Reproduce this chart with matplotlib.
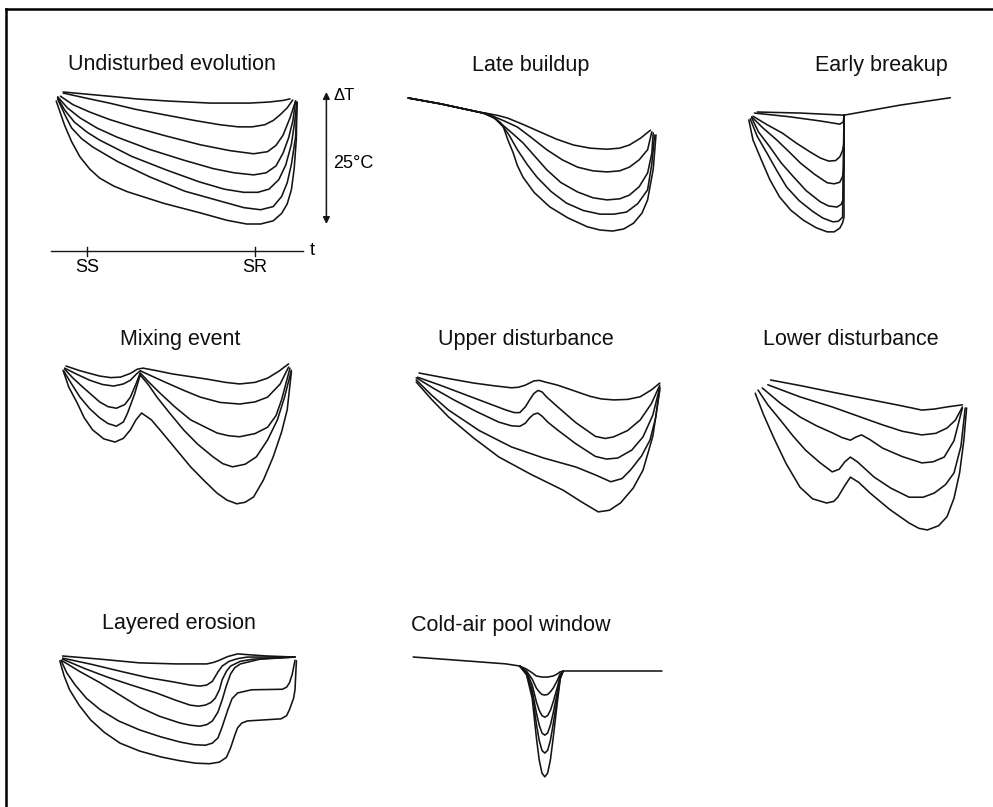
import matplotlib.pyplot as plt
from matplotlib.lines import Line2D

plt.rcParams['font.family'] = ['Liberation Sans', 'DejaVu Sans']

# time in hours after sunset, temperature change in degC (schematic values)
SS_TIME = 0
SR_TIME = 12
DT_SCALE = 25

undisturbed = [
    ([-1.7, 1.6, 3.5, 5.7, 8.8, 11.6, 13.0, 14.0, 14.5],
     [0.0, -0.8, -1.3, -1.7, -2.1, -2.1, -1.9, -1.6, -1.3]),
    ([-1.7, 0.0, 1.6, 3.5, 5.7, 7.7, 9.5, 10.8, 11.8, 12.7, 13.3, 13.8, 14.3, 14.7],
     [-0.2, -1.2, -2.1, -3.3, -4.4, -5.4, -6.2, -6.6, -6.6, -6.2, -5.4, -4.3, -3.0, -1.5]),
    ([-1.9, -1.0, 0.2, 1.6, 3.3, 5.6, 8.1, 10.2, 11.9, 12.9, 13.5, 14.0, 14.5, 14.9],
     [-0.8, -2.4, -3.8, -5.2, -6.6, -8.3, -10.0, -11.1, -11.7, -11.3, -10.1, -8.2, -4.9, -1.7]),
    ([-2.1, -1.4, -0.5, 0.7, 2.1, 4.5, 6.9, 9.0, 10.5, 11.9, 12.8, 13.5, 14.0, 14.4, 14.7, 14.9],
     [-0.9, -3.0, -4.9, -6.8, -8.5, -10.9, -12.9, -14.5, -15.3, -15.7, -15.3, -14.0, -11.6, -8.7, -5.5, -1.7]),
    ([-2.1, -1.6, -0.9, 0.0, 0.9, 3.2, 5.7, 8.0, 9.8, 11.2, 12.2, 13.0, 13.7, 14.2, 14.6, 14.8, 15.0],
     [-1.1, -3.4, -5.7, -7.6, -9.1, -12.2, -14.8, -17.0, -18.4, -19.0, -19.0, -18.4, -16.6, -13.8, -9.9, -6.3, -1.9]),
    ([-2.1, -1.6, -1.1, -0.4, 0.4, 2.2, 4.5, 7.0, 9.3, 11.2, 12.4, 13.3, 13.9, 14.3, 14.6, 14.9, 15.0],
     [-1.3, -4.2, -6.8, -8.8, -10.4, -13.2, -16.1, -18.8, -20.5, -21.9, -22.3, -21.7, -19.8, -17.2, -13.7, -8.5, -1.9]),
    ([-2.2, -1.9, -1.6, -1.1, -0.5, 0.2, 0.9, 1.9, 2.9, 5.5, 8.1, 10.0, 11.4, 12.4, 13.3, 13.9, 14.3,
      14.6, 14.8, 14.95, 15.0],
     [-1.7, -4.0, -6.3, -9.4, -12.3, -14.6, -16.3, -17.8, -18.9, -21.1, -22.9, -24.3, -25.0, -25.0, -24.4,
      -23.0, -21.2, -18.5, -14.5, -9.0, -2.1]),
]

late_start_t = [-2.2, 0.1, 2.2, 2.9]
late_start_dt = [0.0, -1.1, -2.3, -2.7]
late_buildup = [
    ([3.4, 4.2, 4.9, 6.0, 7.2, 8.4, 9.6, 10.8, 12.0, 12.9, 13.6, 14.4, 15.1],
     [-2.9, -3.3, -3.8, -5.0, -6.4, -7.8, -8.9, -9.5, -9.7, -9.5, -8.9, -7.6, -6.1]),
    ([3.3, 3.9, 4.7, 5.6, 6.6, 7.7, 8.8, 9.9, 11.0, 12.0, 12.9, 13.6, 14.3, 14.9, 15.2],
     [-2.9, -3.5, -4.4, -5.5, -7.5, -9.8, -11.7, -13.1, -13.8, -14.0, -13.8, -13.1, -11.7, -9.8, -6.4]),
    ([3.3, 3.8, 4.5, 5.2, 6.0, 6.8, 7.7, 8.7, 9.9, 11.0, 12.0, 12.9, 13.6, 14.3, 14.9, 15.2, 15.3],
     [-2.9, -3.4, -5.0, -6.6, -8.5, -10.9, -13.6, -16.0, -17.8, -18.9, -19.3, -19.1, -18.4, -16.8, -14.2,
      -10.5, -6.6]),
    ([3.3, 3.9, 4.4, 5.0, 5.6, 6.3, 7.0, 8.0, 9.1, 10.3, 11.5, 12.5, 13.4, 14.2, 14.9, 15.2, 15.4],
     [-3.0, -3.7, -4.7, -7.0, -9.8, -12.6, -15.0, -17.7, -19.9, -21.3, -22.0, -22.0, -21.6, -20.0, -17.4,
      -12.5, -7.0]),
    ([3.3, 4.0, 4.6, 4.9, 5.3, 5.6, 6.0, 6.8, 7.9, 9.2, 10.6, 11.5, 12.4, 13.2, 13.9, 14.5, 14.9, 15.3,
      15.5],
     [-3.0, -3.9, -5.5, -7.8, -10.4, -12.8, -15.0, -17.9, -20.6, -22.7, -24.4, -25.0, -25.2, -24.8, -23.7,
      -21.8, -19.3, -13.5, -7.0]),
]

breakup_tail_t = [4.5, 8.5, 12.1]
breakup_tail_dt = [-0.6, 1.3, 2.7]
early_breakup = [
    ([-1.7, 1.4, 4.5], [0.0, -0.2, -0.6]),
    ([-1.9, 0.6, 2.8, 4.2, 4.45, 4.5], [-0.2, -0.9, -1.7, -2.3, -1.9, -0.6]),
    ([-2.0, -1.0, 0.1, 1.1, 2.1, 2.8, 3.4, 3.9, 4.2, 4.4, 4.5, 4.5],
     [-0.8, -2.4, -4.0, -5.9, -7.6, -8.7, -9.3, -9.2, -8.5, -7.3, -5.9, -0.6]),
    ([-2.1, -1.3, -0.3, 0.6, 1.4, 2.4, 3.3, 3.8, 4.2, 4.4, 4.5, 4.5],
     [-0.9, -3.0, -5.3, -7.6, -9.7, -11.8, -13.4, -13.6, -13.3, -12.2, -10.4, -0.6]),
    ([-2.1, -1.6, -0.8, 0.0, 0.9, 1.8, 2.8, 3.4, 4.0, 4.3, 4.45, 4.5],
     [-1.1, -3.8, -6.6, -9.6, -12.3, -14.9, -17.0, -17.8, -18.0, -17.5, -16.5, -0.6]),
    ([-2.2, -1.7, -1.0, -0.3, 0.4, 1.3, 2.3, 3.0, 3.7, 4.1, 4.4, 4.5],
     [-1.3, -4.6, -7.8, -11.1, -14.2, -16.8, -18.9, -20.1, -20.8, -20.7, -19.9, -0.6]),
    ([-2.3, -2.0, -1.4, -0.8, -0.1, 0.7, 1.6, 2.5, 3.3, 3.8, 4.2, 4.4, 4.5, 4.5],
     [-1.5, -5.3, -9.1, -12.8, -16.1, -18.6, -20.5, -21.9, -22.7, -22.7, -22.0, -21.0, -19.9, -0.6]),
]

mixing_event = [
    ([-2.0, -1.0, 0.4, 1.2, 1.9, 2.6, 3.1, 3.5, 4.5, 5.6, 8.1, 9.4, 10.4, 11.5, 12.4, 13.2, 13.9],
     [0.0, -0.9, -1.9, -2.2, -2.1, -1.4, -0.6, -0.4, -0.9, -1.5, -2.5, -3.1, -3.4, -3.1, -2.3, -1.0, 0.4]),
    ([-2.1, -1.2, -0.3, 0.6, 1.4, 2.1, 2.6, 3.0, 3.3, 4.2, 5.2, 6.4, 7.6, 9.0, 10.4, 11.5, 12.4, 13.3, 13.9],
     [-0.4, -1.6, -2.7, -3.5, -3.8, -3.4, -2.7, -1.6, -0.9, -2.0, -3.2, -4.6, -5.9, -6.9, -7.2, -6.8, -5.9,
      -3.4, -0.2]),
    ([-2.1, -1.5, -0.8, 0.4, 1.0, 1.6, 2.2, 2.6, 3.0, 3.3, 3.9, 4.7, 5.8, 6.9, 8.8, 9.6, 10.4, 11.5, 12.4,
      13.0, 13.4, 14.0],
     [-0.6, -2.3, -4.0, -6.8, -7.7, -8.0, -7.3, -5.9, -3.4, -1.3, -3.0, -5.1, -7.8, -10.2, -12.7, -13.2,
      -13.4, -12.8, -11.6, -9.4, -6.4, -0.4]),
    ([-2.2, -1.6, -1.0, -0.3, 0.4, 1.0, 1.6, 2.1, 2.4, 2.9, 3.3, 3.9, 4.5, 5.4, 6.4, 7.4, 8.5, 9.2, 9.9,
      10.8, 11.6, 12.4, 13.1, 13.6, 14.1],
     [-0.8, -3.4, -5.9, -8.1, -9.8, -10.9, -11.4, -10.6, -8.9, -5.3, -1.7, -3.6, -5.9, -8.9, -12.1, -14.8,
      -17.2, -18.5, -19.1, -18.6, -17.2, -14.0, -10.2, -6.0, -0.8]),
    ([-2.2, -1.8, -1.2, -0.7, -0.1, 0.7, 1.5, 2.1, 2.6, 3.0, 3.4, 4.1, 4.9, 5.9, 6.9, 7.9, 8.8, 9.5, 10.2,
      10.8, 11.4, 12.1, 12.8, 13.4, 13.8, 14.1],
     [-0.9, -4.0, -7.0, -9.8, -12.1, -13.8, -14.4, -13.7, -12.1, -10.2, -8.9, -10.2, -12.7, -15.9, -19.1,
      -21.8, -24.1, -25.4, -26.1, -25.8, -24.8, -21.6, -17.2, -12.5, -8.3, -1.1]),
]

upper_disturbance = [
    ([-2.0, 0.0, 1.9, 3.3, 4.6, 5.1, 5.6, 6.2, 6.6, 7.0, 7.9, 9.0, 10.2, 11.0, 11.9, 12.9, 13.8, 14.6, 15.2],
     [0.0, -1.0, -1.9, -2.4, -2.8, -2.7, -2.3, -1.5, -1.4, -1.7, -2.3, -3.3, -4.4, -4.9, -5.1, -5.0, -4.5,
      -3.2, -1.9]),
    ([-2.1, -0.5, 1.0, 2.6, 4.2, 4.8, 5.2, 5.6, 5.9, 6.2, 6.5, 6.8, 7.1, 7.9, 9.2, 10.6, 11.3, 11.9, 12.9,
      13.8, 14.6, 15.2],
     [-0.8, -2.3, -3.8, -5.4, -7.0, -7.5, -7.5, -6.4, -5.1, -3.9, -3.3, -3.6, -4.5, -6.4, -9.4, -12.0, -12.4,
      -12.1, -10.9, -8.9, -5.8, -2.3]),
    ([-2.2, -0.9, 0.5, 2.1, 3.7, 4.6, 5.2, 5.6, 5.9, 6.2, 6.5, 6.8, 7.2, 7.9, 9.2, 10.6, 11.4, 12.2, 13.2,
      14.0, 14.7, 15.2],
     [-0.9, -3.0, -5.1, -7.3, -9.3, -10.0, -10.1, -9.5, -8.5, -7.8, -7.6, -8.2, -9.3, -10.8, -13.4, -15.8,
      -16.3, -16.1, -14.6, -12.1, -8.0, -2.7]),
    ([-2.2, -1.1, 0.1, 2.3, 4.6, 6.9, 9.2, 10.6, 11.7, 12.5, 13.1, 13.9, 14.5, 14.9, 15.2],
     [-1.3, -4.2, -7.0, -10.9, -14.0, -16.1, -17.8, -19.3, -20.6, -20.0, -18.4, -15.7, -12.7, -8.5, -2.8]),
    ([-2.2, -1.1, 0.1, 1.9, 3.7, 6.0, 8.3, 9.6, 10.8, 11.6, 12.4, 13.3, 14.0, 14.7, 15.2],
     [-1.7, -5.0, -8.3, -12.3, -15.9, -19.2, -22.2, -24.4, -26.3, -26.0, -24.6, -21.8, -18.4, -12.0, -3.2]),
]

lower_disturbance = [
    ([-1.1, 1.1, 3.3, 5.6, 7.9, 9.0, 9.7, 10.6, 11.5, 12.6],
     [0.0, -1.1, -2.3, -3.5, -4.7, -5.3, -5.7, -5.5, -5.1, -4.7]),
    ([-1.3, 1.0, 3.3, 5.1, 6.9, 8.3, 9.7, 10.7, 11.5, 12.1, 12.6],
     [-0.9, -3.2, -5.1, -6.8, -8.5, -9.7, -10.4, -10.1, -9.1, -7.6, -5.1]),
    ([-1.7, -0.4, 1.0, 2.2, 3.3, 4.0, 4.6, 5.0, 5.4, 6.0, 6.9, 8.3, 9.7, 10.5, 11.3, 12.0, 12.6],
     [-1.5, -4.4, -7.0, -8.7, -10.0, -10.9, -11.4, -10.8, -10.4, -11.3, -12.9, -14.5, -15.7, -15.5, -14.6,
      -11.5, -5.3]),
    ([-2.0, -1.3, -0.4, 0.5, 1.4, 2.4, 3.3, 3.8, 4.2, 4.6, 5.1, 6.3, 7.5, 8.8, 9.8, 10.6, 11.4, 12.0, 12.5,
      12.8],
     [-1.9, -4.7, -7.6, -10.6, -13.3, -15.6, -17.4, -16.9, -15.5, -14.6, -15.5, -18.4, -20.5, -22.2, -22.2,
      -21.4, -19.8, -17.6, -12.5, -5.3]),
    ([-2.2, -1.6, -0.9, 0.0, 1.0, 1.9, 2.9, 3.4, 3.7, 4.2, 4.6, 5.2, 6.0, 7.4, 8.8, 9.5, 10.1, 10.9, 11.5,
      12.0, 12.4, 12.7, 12.9],
     [-2.5, -6.6, -10.8, -15.8, -20.3, -22.5, -23.3, -23.0, -22.2, -20.0, -18.4, -19.4, -21.4, -24.5, -27.1,
      -28.1, -28.4, -27.6, -25.9, -22.4, -17.6, -11.5, -5.3]),
]

layered_erosion = [
    ([-2.1, 0.6, 3.4, 6.0, 8.2, 8.7, 9.1, 9.7, 10.4, 11.4, 12.5, 14.5],
     [0.0, -0.6, -1.3, -1.5, -1.5, -1.2, -0.8, -0.1, 0.4, 0.2, 0.0, -0.2]),
    ([-2.1, 0.0, 2.2, 4.0, 5.8, 7.0, 7.7, 8.2, 8.6, 9.0, 9.3, 9.8, 10.4, 11.1, 14.5],
     [-0.4, -1.6, -3.0, -4.1, -4.9, -5.5, -5.7, -5.5, -4.8, -3.0, -1.9, -1.0, -0.5, -0.2, -0.2]),
    ([-2.1, -0.5, 1.1, 2.8, 4.6, 5.9, 7.0, 7.6, 8.1, 8.5, 8.8, 9.1, 9.3, 9.6, 9.9, 10.6, 11.5, 14.5],
     [-0.6, -2.4, -4.0, -5.5, -7.0, -8.3, -9.3, -9.5, -9.3, -8.8, -8.0, -6.4, -4.5, -2.9, -1.9, -1.0, -0.6,
      -0.2]),
    ([-2.2, -0.9, 0.6, 2.0, 3.4, 4.8, 6.3, 7.0, 7.7, 8.2, 8.6, 9.0, 9.3, 9.6, 9.9, 10.2, 10.6, 12.0, 14.5],
     [-0.8, -2.9, -5.1, -7.4, -9.7, -11.4, -12.7, -13.1, -13.3, -13.0, -12.3, -10.6, -8.3, -5.6, -3.4, -2.2,
      -1.5, -0.6, -0.2]),
    ([-2.2, -1.8, -1.2, -0.4, 0.6, 1.9, 3.4, 4.9, 6.3, 7.3, 8.1, 8.6, 9.0, 9.3, 9.7, 10.0, 10.4, 11.4, 13.6,
      13.9, 14.1, 14.3, 14.5],
     [-0.9, -3.2, -5.5, -8.0, -10.2, -12.3, -14.0, -15.3, -16.3, -16.8, -16.9, -16.5, -15.5, -13.4, -10.2,
      -8.1, -7.0, -6.4, -6.3, -5.9, -5.1, -3.5, -0.8]),
    ([-2.3, -2.0, -1.6, -0.9, -0.1, 0.9, 2.0, 3.4, 4.9, 6.2, 7.4, 8.4, 9.1, 9.6, 9.9, 10.2, 10.4, 10.7,
      11.1, 13.5, 13.9, 14.1, 14.4, 14.5, 14.6],
     [-0.9, -3.7, -6.4, -9.4, -12.1, -14.5, -16.5, -18.0, -19.1, -19.8, -20.3, -20.4, -20.1, -19.2, -17.4,
      -15.0, -13.6, -12.7, -12.3, -11.9, -11.3, -10.2, -8.0, -6.4, -0.9]),
]

pool_before_t = [-2.2, 1.9, 4.4, 5.4]
pool_before_dt = [0.0, -0.8, -1.3, -1.7]
pool_after_t = [8.5, 15.6]
pool_after_dt = [-2.7, -2.7]
pool_window_t = [5.4, 5.9, 6.3, 6.6, 6.8, 7.0, 7.2, 7.4, 7.6, 7.8, 8.1, 8.3, 8.5]
pool_window = [
    [-1.7, -2.3, -3.0, -3.6, -3.7, -3.8, -3.8, -3.8, -3.7, -3.6, -3.2, -2.8, -2.7],
    [-1.7, -2.7, -4.2, -5.9, -6.6, -7.1, -7.2, -7.1, -6.6, -5.9, -4.4, -3.2, -2.7],
    [-1.7, -2.8, -5.3, -8.5, -10.1, -11.1, -11.4, -11.1, -10.1, -8.5, -5.7, -3.6, -2.7],
    [-1.7, -3.0, -6.3, -10.6, -12.9, -14.4, -14.8, -14.4, -12.9, -10.6, -6.6, -3.8, -2.7],
    [-1.7, -3.2, -7.0, -12.7, -15.8, -17.7, -18.2, -17.7, -15.8, -12.7, -7.6, -4.0, -2.7],
    [-1.7, -3.4, -7.8, -15.3, -19.5, -22.0, -22.7, -22.0, -19.5, -15.3, -8.5, -4.2, -2.7],
]

# layout in pixels of the 993x807 figure
W, H = 993, 807
PX_H = 14.0    # px per hour
PX_C = 5.28    # px per degC
LINE = dict(color='#141414', lw=1.15, solid_joinstyle='round', solid_capstyle='round', clip_on=False)

fig = plt.figure(figsize=(W / 100, H / 100), dpi=100)


def panel_axes(x0, y0):
    # x0, y0: pixel position of t=0, dT=0
    ax = fig.add_axes([(x0 - 45) / W, 1 - (y0 + 175) / H, 290 / W, 210 / H])
    ax.set_xlim(-45 / PX_H, 245 / PX_H)
    ax.set_ylim(-175 / PX_C, 35 / PX_C)
    ax.axis('off')
    return ax


def title(text, x, y):
    fig.text(x / W, 1 - y / H, text, ha='center', va='center', fontsize=15.5, color='#111111')


# Undisturbed evolution
ax = panel_axes(87, 92)
for t, dt in undisturbed:
    ax.plot(t, dt, **LINE)
axis_y = -30.1
ax.plot([-2.6, 15.4], [axis_y, axis_y], color='#151515', lw=1.0, clip_on=False)
for tt, lab in [(SS_TIME, 'SS'), (SR_TIME, 'SR')]:
    ax.plot([tt, tt], [axis_y + 0.8, axis_y - 0.9], color='#151515', lw=1.0, clip_on=False)
    ax.text(tt, axis_y - 3.1, lab, ha='center', va='center', fontsize=13)
ax.text(16.1, axis_y, 't', ha='center', va='center', fontsize=13)
ax.annotate('', xy=(17.1, 0), xytext=(17.1, -DT_SCALE),
            arrowprops=dict(arrowstyle='<|-|>', lw=1.1, color='#151515',
                            mutation_scale=10, shrinkA=0, shrinkB=0))
ax.text(17.6, -0.6, '\u0394T', ha='left', va='center', fontsize=12)
ax.text(17.6, -13.6, f'{DT_SCALE}\u00b0C', ha='left', va='center', fontsize=13)
title('Undisturbed evolution', 172, 65)

# Late buildup
ax = panel_axes(439, 98)
for t, dt in late_buildup:
    ax.plot(late_start_t + t, late_start_dt + dt, **LINE)
title('Late buildup', 531, 65)

# Early breakup
ax = panel_axes(781, 112)
for t, dt in early_breakup:
    ax.plot(t, dt, **LINE)
ax.plot(breakup_tail_t, breakup_tail_dt, **LINE)
title('Early breakup', 881, 66)

# Mixing event
ax = panel_axes(94, 366)
for t, dt in mixing_event:
    ax.plot(t, dt, **LINE)
title('Mixing event', 180, 340)

# Upper disturbance
ax = panel_axes(447, 373)
for t, dt in upper_disturbance:
    ax.plot(t, dt, **LINE)
title('Upper disturbance', 526, 340)

# Lower disturbance
ax = panel_axes(786, 380)
for t, dt in lower_disturbance:
    ax.plot(t, dt, **LINE)
title('Lower disturbance', 851, 340)

# Layered erosion
ax = panel_axes(92, 656)
for t, dt in layered_erosion:
    ax.plot(t, dt, **LINE)
title('Layered erosion', 179, 624)

# Cold-air pool window
ax = panel_axes(444, 657)
ax.plot(pool_before_t, pool_before_dt, **LINE)
ax.plot(pool_after_t, pool_after_dt, **LINE)
for dt in pool_window:
    ax.plot(pool_window_t, dt, **LINE)
title('Cold-air pool window', 511, 625)

# frame (top and left edges only)
fig.add_artist(Line2D([6 / W, 6 / W], [0, 1 - 9 / H], transform=fig.transFigure, color='k', lw=1.8))
fig.add_artist(Line2D([6 / W, 1], [1 - 9 / H, 1 - 9 / H], transform=fig.transFigure, color='k', lw=1.8))

fig.savefig('out.png', dpi=100)
